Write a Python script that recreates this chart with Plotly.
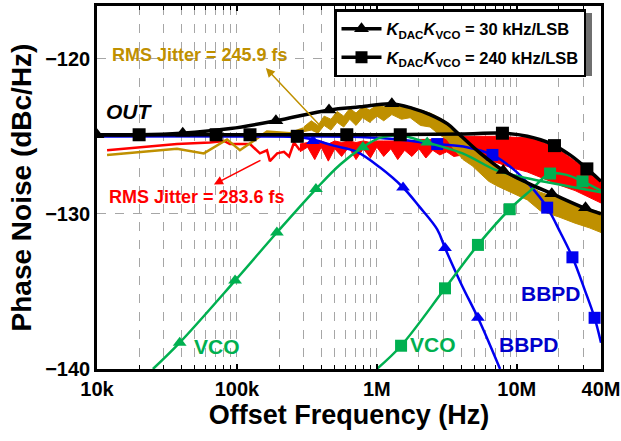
import numpy as np
import plotly.graph_objects as go

# ---------------- data ----------------
# OUT, K_DAC*K_VCO = 30 kHz/LSB (black, triangles)
out30_f = [1e4, 2e4, 4e4, 9e4, 1.9e5, 4.55e5, 7.6e5, 1.28e6, 1.8e6, 2.4e6, 3.2e6, 3.8e6, 5.5e6, 8e6, 1.19e7, 1.78e7, 3e7, 4e7]
out30_v = [-124.9, -124.9, -124.8, -124.5, -124.0, -123.3, -123.1, -122.9, -123.2, -123.6, -124.2, -124.8, -126.1, -127.2, -128.0, -128.7, -129.6, -130.0]
out30_mf = [1e4, 4.1e4, 1.9e5, 4.55e5, 1.28e6, 8e6, 1.78e7, 3.1e7]
out30_mv = [-124.9, -124.8, -124.0, -123.3, -122.9, -127.2, -128.7, -129.6]

# OUT, K_DAC*K_VCO = 240 kHz/LSB (black, squares)
out240_f = [1e4, 1e5, 1e6, 4e6, 7.9e6, 1.19e7, 1.78e7, 2.4e7, 3.1e7, 4e7]
out240_v = [-124.9, -124.9, -124.9, -124.85, -124.8, -125.0, -125.5, -126.2, -127.0, -127.9]
out240_mf = [2e4, 7.1e4, 1.24e5, 2.7e5, 6.1e5, 1.47e6, 7.9e6, 1.86e7, 3.17e7]
out240_mv = [-124.9, -124.9, -124.9, -125.0, -124.9, -124.9, -124.8, -125.6, -127.1]

# BBPD contribution, 30 kHz/LSB (blue, triangles)
bb30_f = [1e4, 1e5, 3e5, 4.9e5, 7.2e5, 1.05e6, 1.54e6, 2.0e6, 2.7e6, 3.07e6, 4.0e6, 5.28e6, 6.4e6, 7.6e6]
bb30_v = [-125.0, -125.0, -125.1, -125.6, -126.0, -127.0, -128.3, -129.5, -131.0, -132.2, -134.5, -136.7, -138.4, -140.0]
bb30_mf = [3.5e5, 1.54e6, 3.07e6, 5.28e6]
bb30_mv = [-125.3, -128.3, -132.2, -136.7]

# BBPD contribution, 240 kHz/LSB (blue, squares)
bb240_f = [1e4, 1e5, 1e6, 2.7e6, 4.4e6, 6.7e6, 9.4e6, 1.25e7, 1.65e7, 2.05e7, 2.5e7, 3.06e7, 3.6e7, 4e7]
bb240_v = [-125.0, -125.0, -125.1, -125.5, -125.7, -126.2, -127.1, -128.2, -129.6, -131.2, -132.8, -134.9, -136.7, -138.3]
bb240_mf = [2.7e6, 6.7e6, 1.65e7, 2.5e7, 3.6e7]
bb240_mv = [-125.5, -126.2, -129.6, -132.8, -136.7]

# VCO contribution, 30 kHz/LSB (green, triangles)
vco30_f = [2.51e4, 3.9e4, 9.7e4, 1.93e5, 3.67e5, 5.5e5, 7.95e5, 1.05e6, 1.46e6, 2.29e6, 4.1e6, 7.2e6, 1.19e7, 1.73e7, 2.6e7, 4e7]
vco30_v = [-140.0, -138.3, -134.3, -131.2, -128.4, -126.8, -125.7, -125.1, -124.95, -125.4, -126.1, -127.2, -127.7, -128.0, -128.3, -128.6]
vco30_mf = [3.9e4, 9.7e4, 1.93e5, 3.67e5, 7.95e5, 2.29e6]
vco30_mv = [-138.3, -134.3, -131.2, -128.4, -125.7, -125.4]

# VCO contribution, 240 kHz/LSB (green, squares)
vco240_f = [1e6, 1.49e6, 3.07e6, 5.28e6, 8.9e6, 1.25e7, 1.73e7, 2.3e7, 2.95e7, 4e7]
vco240_v = [-140.0, -138.5, -134.8, -132.0, -129.7, -128.5, -127.4, -127.5, -127.9, -128.5]
vco240_mf = [1.49e6, 3.07e6, 5.28e6, 8.9e6, 1.73e7, 2.95e7]
vco240_mv = [-138.5, -134.8, -132.0, -129.7, -127.4, -127.9]

# Measured spectrum, 30 kHz/LSB (gold): low-offset trace + noisy band (upper / lower edge)
gold_f = [1.18e4, 3.73e4, 5.8e4, 8.5e4, 1.05e5, 1.32e5, 1.64e5, 2.4e5, 3.0e5]
gold_v = [-126.2, -125.8, -126.1, -125.2, -125.9, -125.3, -124.7, -124.8, -124.5]
goldb_f = [3.0e5, 3.4e5, 3.8e5, 4.2e5, 4.7e5, 5.2e5, 5.8e5, 6.4e5, 7.1e5, 7.9e5, 8.9e5, 1.0e6, 1.12e6,
           1.28e6, 1.5e6, 1.73e6, 2.05e6, 2.4e6, 2.8e6, 3.17e6, 3.6e6, 4.13e6, 4.8e6, 5.47e6, 6.3e6,
           7.23e6, 9e6, 1.19e7, 1.47e7, 2.0e7, 2.61e7, 3.3e7, 4e7]
goldb_hi = [-124.4, -124.0, -124.3, -123.7, -123.9, -123.4, -123.7, -123.2, -123.5, -123.1, -123.3, -123.0,
            -123.1, -122.95, -123.0, -123.1, -123.3, -123.5, -123.8, -124.1, -124.6, -125.2, -125.7, -126.2, -126.6,
            -127.0, -127.6, -128.1, -128.6, -129.0, -129.4, -129.7, -129.9]
goldb_lo = [-124.7, -124.6, -124.8, -124.3, -124.6, -124.1, -124.4, -123.9, -124.3, -123.8, -124.1, -123.7,
            -124.0, -123.6, -123.9, -123.8, -124.3, -124.4, -124.9, -125.2, -125.9, -126.5, -126.9, -127.4, -127.9,
            -128.2, -128.6, -129.1, -129.8, -130.2, -130.6, -130.9, -131.2]

# Measured spectrum, 240 kHz/LSB (red): low-offset trace + noisy band (upper / lower edge)
red_f = [1.18e4, 3.73e4, 6.4e4, 8.1e4, 8.9e4, 1.24e5, 1.46e5, 1.64e5, 1.72e5, 1.94e5, 2.17e5, 2.36e5, 2.56e5, 2.82e5]
red_v = [-125.9, -125.5, -125.4, -125.3, -125.5, -125.5, -126.1, -125.9, -126.6, -126.1, -126.0, -126.3, -125.4, -125.9]
redb_f = [2.82e5, 3.2e5, 3.6e5, 4.0e5, 4.5e5, 5.0e5, 5.6e5, 6.3e5, 7.1e5, 8.0e5, 9.0e5, 1.0e6, 1.12e6,
          1.26e6, 1.41e6, 1.58e6, 1.78e6, 2.0e6, 2.24e6, 2.51e6, 2.82e6, 3.16e6, 3.55e6, 4.13e6, 5.0e6,
          6.0e6, 7.23e6, 9e6, 1.19e7, 1.45e7, 1.73e7, 2.1e7, 2.61e7, 3.2e7, 4e7]
redb_hi = [-125.5, -125.4, -125.5, -125.3, -125.5, -125.3, -125.4, -125.3, -125.4, -125.3, -125.4, -125.3, -125.3,
           -125.3, -125.3, -125.3, -125.3, -125.2, -125.2, -125.2, -125.2, -125.1, -125.1, -125.0, -125.0,
           -125.0, -125.0, -125.05, -125.1, -125.3, -125.6, -126.0, -126.6, -127.2, -127.8]
redb_lo = [-126.0, -125.7, -126.5, -125.7, -126.6, -125.8, -126.3, -125.7, -126.5, -125.8, -126.4, -125.7, -126.3,
           -125.8, -126.5, -125.9, -126.3, -125.8, -126.4, -125.9, -126.2, -126.0, -126.3, -126.2, -126.4,
           -126.5, -126.7, -127.0, -127.3, -127.6, -127.9, -128.2, -128.5, -128.9, -129.3]

x_tickvals = [1e4, 1e5, 1e6, 1e7, 4e7]
x_ticktext = ["10k", "100k", "1M", "10M", "40M"]
x_minorvals = [m * 10 ** e for e in range(4, 8) for m in range(2, 10) if m * 10 ** e < 4e7]
y_tickvals = [-140, -130, -120]

legend_30 = "<i>K</i><sub>DAC</sub><i>K</i><sub>VCO</sub> = 30 kHz/LSB"
legend_240 = "<i>K</i><sub>DAC</sub><i>K</i><sub>VCO</sub> = 240 kHz/LSB"

# ---------------- styles ----------------
FONT = "Liberation Sans, Arial, sans-serif"
BLACK = "#000000"
GOLD = "#BF9000"
RED = "#FF0000"
BLUE = "#0000F0"
GREEN = "#00B050"
GRID = "#A6A6A6"

fig = go.Figure()


def band(f, hi, lo, color):
    fig.add_trace(go.Scatter(x=list(f) + list(f)[::-1], y=list(hi) + list(lo)[::-1],
                             mode="lines", fill="toself", fillcolor=color,
                             line=dict(color=color, width=1), showlegend=False, hoverinfo="skip"))


def curve(f, v, color, width, shape="spline"):
    fig.add_trace(go.Scatter(x=f, y=v, mode="lines", line=dict(color=color, width=width, shape=shape),
                             showlegend=False, hoverinfo="skip"))


def marks(f, v, color, symbol, size):
    fig.add_trace(go.Scatter(x=f, y=v, mode="markers",
                             marker=dict(color=color, symbol=symbol, size=size, line=dict(width=0)),
                             showlegend=False, hoverinfo="skip"))


# measured spectra
band(redb_f, redb_hi, redb_lo, RED)
curve(red_f, red_v, RED, 2.5, "linear")
band(goldb_f, goldb_hi, goldb_lo, GOLD)
curve(gold_f, gold_v, GOLD, 2.5, "linear")

# simulated contributions
curve(bb30_f, bb30_v, BLUE, 2.5)
marks(bb30_mf, bb30_mv, BLUE, "triangle-up", 12)
curve(bb240_f, bb240_v, BLUE, 2.5)
marks(bb240_mf, bb240_mv, BLUE, "square", 12)
curve(vco30_f, vco30_v, GREEN, 2.5)
marks(vco30_mf, vco30_mv, GREEN, "triangle-up", 12)
curve(vco240_f, vco240_v, GREEN, 2.5)
marks(vco240_mf, vco240_mv, GREEN, "square", 12)

# total output
curve(out240_f, out240_v, BLACK, 3.5)
marks(out240_mf, out240_mv, BLACK, "square", 13)
curve(out30_f, out30_v, BLACK, 3.5)
marks(out30_mf, out30_mv, BLACK, "triangle-up", 13)

# legend entries
fig.add_trace(go.Scatter(x=[None], y=[None], mode="lines+markers", name=legend_30, legendgroup="a",
                         line=dict(color=BLACK, width=3.5), marker=dict(symbol="triangle-up", size=13, color=BLACK)))
fig.add_trace(go.Scatter(x=[None], y=[None], mode="lines+markers", name=legend_240, legendgroup="b",
                         line=dict(color=BLACK, width=3.5), marker=dict(symbol="square", size=12, color=BLACK)))

L = np.log10


def label(text, f, v, color, size, italic=False):
    fig.add_annotation(x=L(f), y=v, xref="x", yref="y", text=text, showarrow=False,
                       font=dict(family=FONT, size=size, color=color, weight="bold",
                                 style="italic" if italic else "normal"))


label("RMS Jitter = 245.9 fs", 5.45e4, -119.74, GOLD, 18)
label("RMS Jitter = 283.6 fs", 5.19e4, -128.9, RED, 18)
label("OUT", 1.72e4, -123.42, BLACK, 21, italic=True)
label("VCO", 7.2e4, -138.58, GREEN, 21)
label("VCO", 2.52e6, -138.45, GREEN, 21)
label("BBPD", 1.22e7, -138.45, "#0000CC", 21)
label("BBPD", 1.76e7, -135.16, "#0000CC", 21)

# arrows (head at x,y; tail at ax,ay)
fig.add_annotation(x=L(1.61e5), y=-120.6, ax=L(4.06e5), ay=-124.45, xref="x", yref="y", axref="x", ayref="y",
                   text="", showarrow=True, arrowhead=2, arrowsize=1.2, arrowwidth=1.5, arrowcolor=GOLD)
fig.add_annotation(x=L(6.85e4), y=-128.1, ax=L(1.51e5), ay=-126.5, xref="x", yref="y", axref="x", ayref="y",
                   text="", showarrow=True, arrowhead=2, arrowsize=1.2, arrowwidth=1.5, arrowcolor=RED)

W, H = 621, 441
ML, MR, MT, MB = 97, 20, 6, 72
pw, ph = W - ML - MR, H - MT - MB


def px2paper(x, y):
    return (x - ML) / pw, (H - MB - y) / ph


# legend drop shadow
sx0, sy0 = px2paper(340, 76)
sx1, sy1 = px2paper(592, 13)
fig.add_shape(type="rect", xref="paper", yref="paper", x0=sx0, y0=sy0, x1=sx1, y1=sy1,
              fillcolor="#6F6F6F", line=dict(width=0), layer="above")

lx, ly = px2paper(334, 9)

fig.update_layout(
    width=W, height=H, margin=dict(l=ML, r=MR, t=MT, b=MB),
    paper_bgcolor="white", plot_bgcolor="white",
    font=dict(family=FONT, color=BLACK),
    showlegend=True,
    legend=dict(x=lx, y=ly, xanchor="left", yanchor="top", bgcolor="white",
                bordercolor=BLACK, borderwidth=2.5,
                font=dict(family=FONT, size=16.5, color=BLACK, weight="bold"),
                itemwidth=40, tracegroupgap=4),
    xaxis=dict(type="log", range=[4, L(4e7)],
               tickmode="array", tickvals=x_tickvals, ticktext=x_ticktext,
               ticks="inside", ticklen=5, tickwidth=1.5, tickcolor=BLACK,
               showgrid=True, gridcolor=GRID, griddash="dash", gridwidth=1,
               minor=dict(tickmode="array", tickvals=x_minorvals, ticks="inside", ticklen=4,
                          tickwidth=1.2, tickcolor=BLACK, showgrid=True, gridcolor=GRID,
                          griddash="dash", gridwidth=1),
               showline=True, linecolor=BLACK, linewidth=2.5, mirror="ticks",
               tickfont=dict(family=FONT, size=20, color=BLACK, weight="bold"),
               title=dict(text="Offset Frequency (Hz)", standoff=6,
                          font=dict(family=FONT, size=27, color=BLACK, weight="bold")),
               zeroline=False, automargin=False),
    yaxis=dict(range=[-140, -116.6], tickvals=y_tickvals,
               ticks="", showgrid=True, gridcolor=GRID, griddash="dash", gridwidth=1,
               showline=True, linecolor=BLACK, linewidth=2.5, mirror=True,
               tickfont=dict(family=FONT, size=20, color=BLACK, weight="bold"),
               title=dict(text="Phase Noise (dBc/Hz)", standoff=6,
                          font=dict(family=FONT, size=28, color=BLACK, weight="bold")),
               zeroline=False, automargin=False),
)

fig.write_html("out.html")
